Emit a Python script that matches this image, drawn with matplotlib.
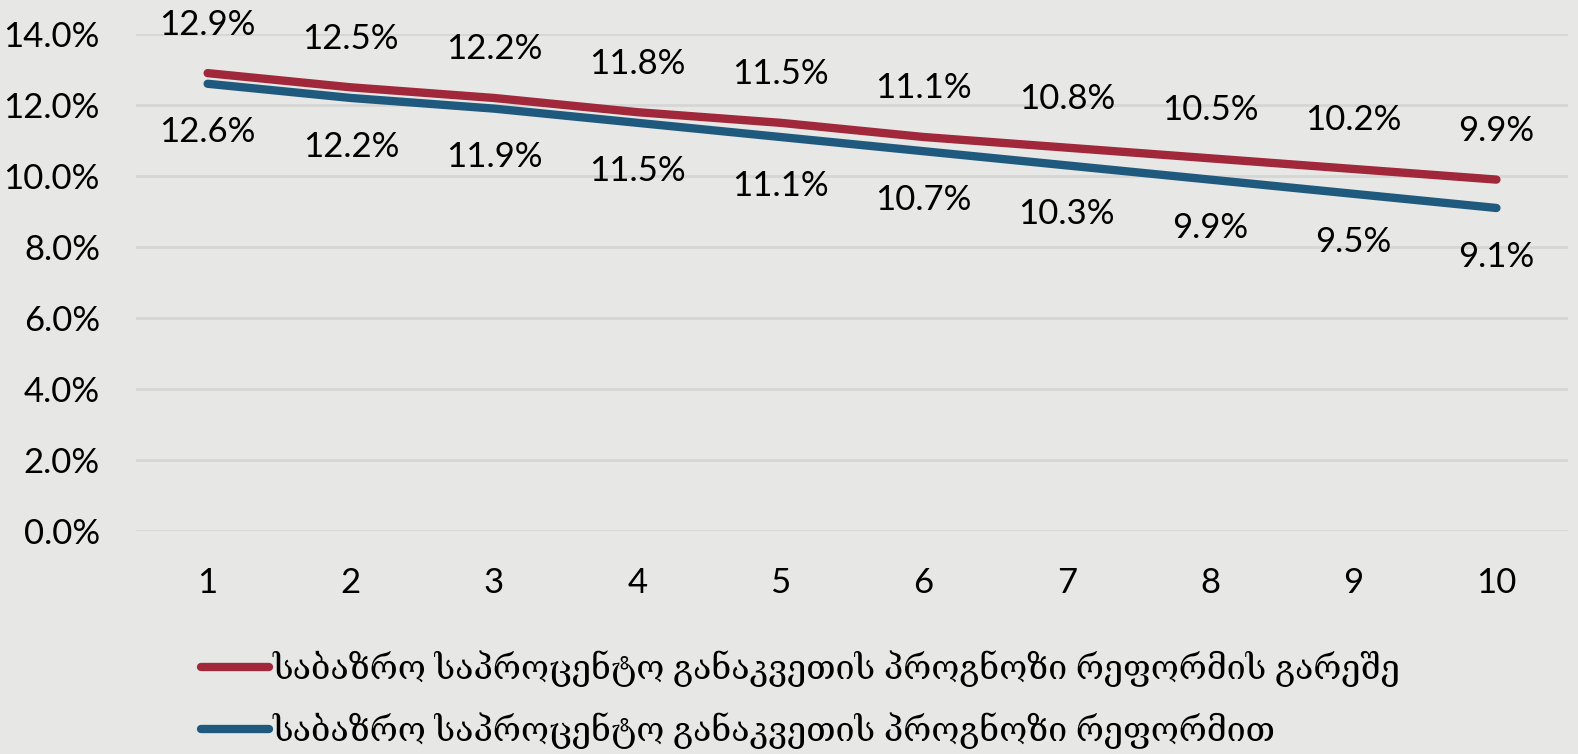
import matplotlib
matplotlib.use('Agg')
import matplotlib.pyplot as plt
from matplotlib.ticker import FuncFormatter

periods = ['1', '2', '3', '4', '5', '6', '7', '8', '9', '10']
no_reform = [12.9, 12.5, 12.2, 11.8, 11.5, 11.1, 10.8, 10.5, 10.2, 9.9]
with_reform = [12.6, 12.2, 11.9, 11.5, 11.1, 10.7, 10.3, 9.9, 9.5, 9.1]
series_names = ['საბაზრო საპროცენტო განაკვეთის პროგნოზი რეფორმის გარეშე',
                'საბაზრო საპროცენტო განაკვეთის პროგნოზი რეფორმით']

bg = '#e7e7e6'
red = '#a0283a'
blue = '#1f5a7e'

plt.rcParams['font.family'] = ['Lato', 'DejaVu Serif']

fig = plt.figure(figsize=(15.78, 7.54), dpi=100, facecolor=bg)
ax = fig.add_axes([0.0862, 0.2958, 0.9075, 0.659])
ax.set_facecolor(bg)

x = list(range(len(periods)))
ax.plot(x, no_reform, color=red, lw=6, solid_capstyle='round', label=series_names[0], zorder=3)
ax.plot(x, with_reform, color=blue, lw=6, solid_capstyle='round', label=series_names[1], zorder=3)

for i in x:
    ax.annotate(f'{no_reform[i]:.1f}%', (i, no_reform[i]), xytext=(0, 35), textcoords='offset points',
                ha='center', va='center', fontsize=25, color='black')
    ax.annotate(f'{with_reform[i]:.1f}%', (i, with_reform[i]), xytext=(0, -35), textcoords='offset points',
                ha='center', va='center', fontsize=25, color='black')

ax.set_xlim(-0.5, len(periods) - 0.5)
ax.set_ylim(0, 14)
ax.set_yticks(range(0, 15, 2))
ax.yaxis.set_major_formatter(FuncFormatter(lambda v, p: f'{v:.1f}%'))
ax.set_xticks(x)
ax.set_xticklabels(periods)
ax.tick_params(axis='both', length=0, labelsize=25)
ax.tick_params(axis='x', pad=26)
ax.tick_params(axis='y', pad=26)
ax.grid(axis='y', color='#d6d6d5', lw=2)
ax.set_axisbelow(True)
for s in ax.spines.values():
    s.set_visible(False)

leg = fig.legend(loc='upper left', bbox_to_anchor=(0.108, 0.178), frameon=False, fontsize=24.5,
                 handlelength=2.0, handletextpad=0.1, labelspacing=0.75)
for h in leg.legend_handles:
    h.set_solid_capstyle('round')

plt.savefig('out.png', dpi=100, facecolor=bg)
plt.close()
